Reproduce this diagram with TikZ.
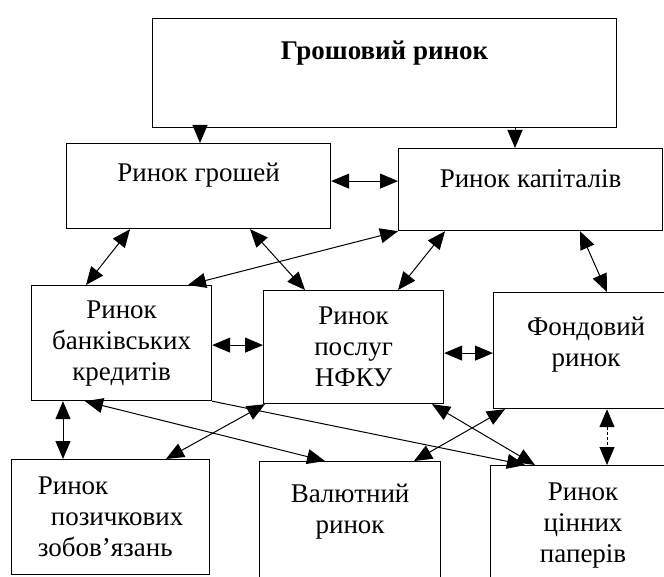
\documentclass[tikz,border=0pt]{standalone}
\usepackage{fontspec}
\setmainfont{Liberation Serif}
\usetikzlibrary{arrows.meta}

\begin{document}
\begin{tikzpicture} [x=1pt, y=-1pt]
    \tikzstyle{every node}=[font=\fontsize{27}{31}\selectfont]
    \tikzstyle{box} = [draw, line width=1.2pt, align=center, anchor=north west, inner sep=3pt]
    \tikzstyle{link} = [line width=1pt, {Triangle[length=18pt,width=15pt]}-{Triangle[length=18pt,width=15pt]}]
    \tikzstyle{oneway} = [line width=1pt, -{Triangle[length=18pt,width=15pt]}]
    \useasboundingbox (0,0) rectangle (664,577);
    % markets
    \node[box, minimum width=464, minimum height=109] (market) at (152,18) {\textbf{Грошовий ринок}\\[14pt]~};
    \node[box, minimum width=264, minimum height=85] (money) at (66,143) {Ринок грошей\\[-3pt]~};
    \node[box, minimum width=264, minimum height=82] (capital) at (398,148) {Ринок капіталів\\[-8pt]~};
    \node[box, minimum width=180, minimum height=115] (credit) at (31,285) {Ринок\\банківських\\кредитів};
    \node[box, minimum width=180, minimum height=113] (nfku) at (263,290) {Ринок\\послуг\\НФКУ};
    \node[box, minimum width=185, minimum height=116] (stock) at (493,292) {Фондовий\\ринок\\[-14pt]~};
    \node[box, align=left, minimum width=198, minimum height=115] (loan) at (11,459) {Ринок\\\hspace{13pt}позичкових\\зобов’язань};
    \node[box, minimum width=181, minimum height=125] (currency) at (259,461) {Валютний\\ринок\\~};
    \node[box, minimum width=185, minimum height=120] (securities) at (490,465) {Ринок\\цінних\\паперів};
    % links
    \draw[oneway, densely dashed] ([xshift=48]market.south west) -- ([xshift=48]market.south west |- money.north);
    \draw[oneway, densely dashed] ([xshift=363]market.south west) -- ([xshift=363]market.south west |- capital.north);
    \draw[link] ([yshift=5]money.east) -- ([yshift=5]money.east -| capital.west);
    \draw[link] ([xshift=64]money.south west) -- ([xshift=55]credit.north west);
    \draw[link] ([xshift=184]money.south west) -- ([xshift=42]nfku.north west);
    \draw[link] (capital.south west) -- ([xshift=157]credit.north west);
    \draw[link] ([xshift=47]capital.south west) -- ([xshift=135]nfku.north west);
    \draw[link] ([xshift=182]capital.south west) -- ([xshift=114]stock.north west);
    \draw[link] ([yshift=-2]credit.east) -- ([yshift=-2]credit.east -| nfku.west);
    \draw[link] ([yshift=-6]nfku.east) -- ([yshift=-6]nfku.east -| stock.west);
    \draw[link] ([xshift=32]credit.south west) -- ([xshift=32]credit.south west |- loan.north);
    \draw[link] ([xshift=54]credit.south west) -- ([xshift=66]currency.north west);
    \draw[oneway] (credit.south east) -- ([xshift=35]securities.north west);
    \draw[link] ([xshift=2]nfku.south west) -- ([xshift=155]loan.north west);
    \draw[link] ([xshift=169]nfku.south west) -- ([xshift=45]securities.north west);
    \draw[link] ([xshift=12]stock.south west) -- ([xshift=155]currency.north west);
    \draw[link, densely dashed] ([xshift=114]stock.south west) -- ([xshift=114]stock.south west |- securities.north);
\end{tikzpicture}
\end{document}
